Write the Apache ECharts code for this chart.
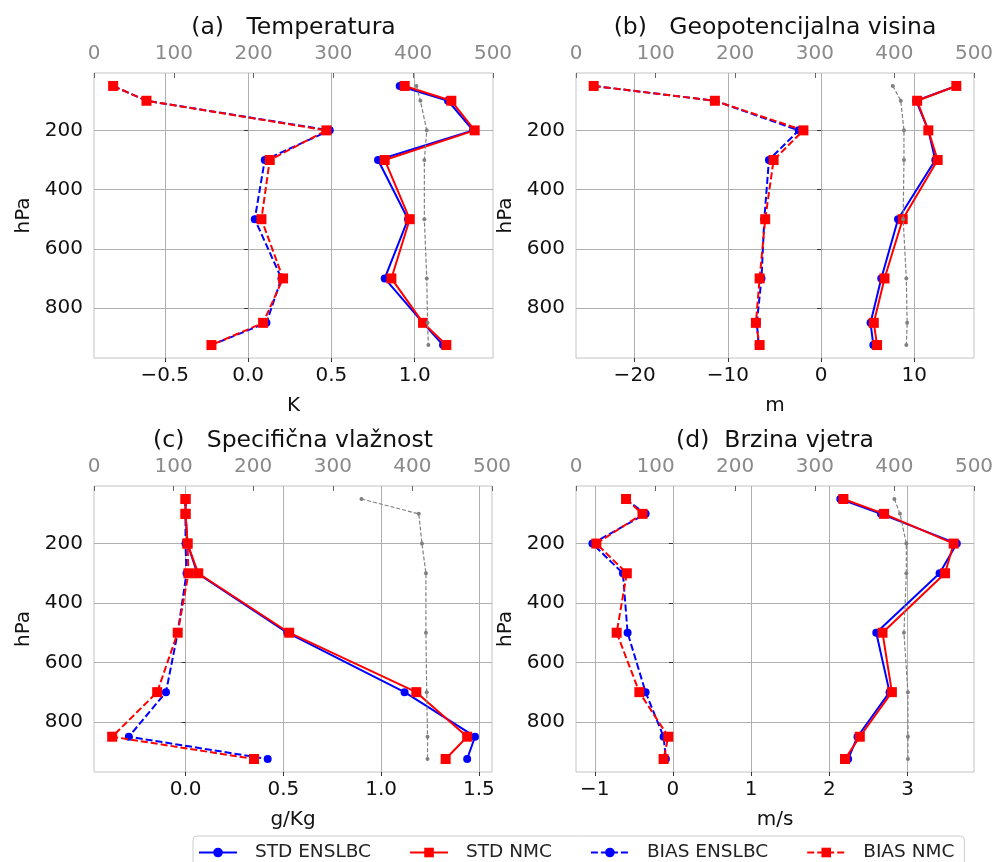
<!DOCTYPE html>
<html>
<head>
<meta charset="utf-8">
<script src="https://cdn.jsdelivr.net/npm/echarts@6/dist/echarts.min.js"></script>
<style>
  html, body { margin: 0; padding: 0; background: #ffffff; }
  #chart { width: 994px; height: 862px; }
</style>
</head>
<body>
<div id="chart"></div>
<script>
// ---- data ----
const levels = [50, 100, 200, 300, 500, 700, 850, 925];

// (a) Temperatura [K]
const tStdEns  = [0.91, 1.20, 1.35, 0.78, 0.96, 0.82, 1.05, 1.17];
const tStdNmc  = [0.94, 1.22, 1.36, 0.82, 0.97, 0.86, 1.05, 1.19];
const tBiasEns = [-0.81, -0.61, 0.49, 0.10, 0.04, 0.20, 0.11, -0.22];
const tBiasNmc = [-0.81, -0.61, 0.47, 0.13, 0.08, 0.21, 0.09, -0.22];
const tCount   = [404, 409, 417, 414, 414, 417, 418, 419];

// (b) Geopotencijalna visina [m]
const zStdEns  = [14.5, 10.2, 11.5, 12.25, 8.25, 6.45, 5.3, 5.6];
const zStdNmc  = [14.5, 10.3, 11.5, 12.5, 8.75, 6.8, 5.65, 6.0];
const zBiasEns = [-24.4, -11.4, -2.4, -5.6, -6.1, -6.4, -6.9, -6.7];
const zBiasNmc = [-24.4, -11.4, -1.9, -5.1, -6.0, -6.6, -7.0, -6.6];
const zCount   = [398, 408, 412, 412, 411, 415, 416, 415];

// (c) Specifična vlažnost [g/Kg]
const qStdEns  = [0.0, 0.0, 0.01, 0.06, 0.52, 1.12, 1.48, 1.44];
const qStdNmc  = [0.0, 0.0, 0.01, 0.065, 0.53, 1.18, 1.44, 1.33];
const qBiasEns = [0.0, 0.0, 0.0, 0.005, -0.04, -0.10, -0.29, 0.42];
const qBiasNmc = [0.0, 0.0, 0.01, 0.015, -0.04, -0.145, -0.375, 0.35];
const qCount   = [336, 408, 412, 417, 417, 418, 419, 419];

// (d) Brzina vjetra [m/s]
const wStdEns  = [2.14, 2.66, 3.63, 3.41, 2.60, 2.77, 2.36, 2.24];
const wStdNmc  = [2.18, 2.70, 3.59, 3.48, 2.68, 2.80, 2.39, 2.20];
const wBiasEns = [-0.61, -0.35, -1.03, -0.64, -0.58, -0.35, -0.12, -0.09];
const wBiasNmc = [-0.60, -0.39, -0.98, -0.59, -0.72, -0.43, -0.06, -0.12];
const wCount   = [400, 407, 415, 415, 412, 417, 417, 417];

// tick values
const yTicks = [200, 400, 600, 800];
const aTicks = [-0.5, 0, 0.5, 1.0];
const bTicks = [-20, -10, 0, 10];
const cTicks = [0, 0.5, 1.0, 1.5];
const dTicks = [-1, 0, 1, 2, 3];

const titles = ['(a)   Temperatura', '(b)   Geopotencijalna visina', '(c)   Specifična vlažnost', '(d)  Brzina vjetra'];
const units = ['K', 'm', 'g/Kg', 'm/s'];
const seriesNames = ['STD ENSLBC', 'STD NMC', 'BIAS ENSLBC', 'BIAS NMC'];

// ---- chart ----
const FONT = 'DejaVu Sans';
const grids = [
  { left: 94,  top: 73,  width: 399, height: 285 },
  { left: 576, top: 73,  width: 398, height: 285 },
  { left: 94,  top: 486, width: 398, height: 286 },
  { left: 576, top: 486, width: 398, height: 286 }
];
const xRanges = [[-0.925, 1.47], [-26.3, 16.4], [-0.468, 1.567], [-1.24, 3.85]];
const xTickSets = [aTicks, bTicks, cTicks, dTicks];
const xDecimals = [1, 0, 1, 0];
const panels = [
  [tStdEns, tStdNmc, tBiasEns, tBiasNmc, tCount],
  [zStdEns, zStdNmc, zBiasEns, zBiasNmc, zCount],
  [qStdEns, qStdNmc, qBiasEns, qBiasNmc, qCount],
  [wStdEns, wStdNmc, wBiasEns, wBiasNmc, wCount]
];

function fmt(v, d) {
  const s = Math.abs(v).toFixed(d);
  return (v < 0 ? '\u2212' : '') + s;
}

const xAxes = [], yAxes = [], series = [], titleArr = [];
grids.forEach((g, i) => {
  // bottom value axis
  xAxes.push({
    type: 'value', gridIndex: i, position: 'bottom',
    min: xRanges[i][0], max: xRanges[i][1],
    name: units[i], nameLocation: 'middle', nameGap: 38,
    nameTextStyle: { fontFamily: FONT, fontSize: 20, color: '#111' },
    axisLine: { show: false },
    axisTick: { show: true, inside: false, length: 4, customValues: xTickSets[i], lineStyle: { color: '#333', width: 1 } },
    axisLabel: { customValues: xTickSets[i], margin: 8, fontFamily: FONT, fontSize: 20, color: '#111',
      formatter: (v) => fmt(v, xDecimals[i]) },
    splitLine: { show: true, lineStyle: { color: '#b0b0b0', width: 1 } }
  });
  // top count axis
  xAxes.push({
    type: 'value', gridIndex: i, position: 'top',
    min: 0, max: 500, interval: 100,
    axisLine: { show: false },
    axisTick: { show: true, inside: true, length: 5, lineStyle: { color: '#666', width: 1 } },
    axisLabel: { margin: 9, fontFamily: FONT, fontSize: 20, color: '#8a8a8a' },
    splitLine: { show: false }
  });
  yAxes.push({
    type: 'value', gridIndex: i, inverse: true,
    min: 6.25, max: 968.75,
    name: 'hPa', nameLocation: 'middle', nameGap: 60, nameRotate: 90,
    nameTextStyle: { fontFamily: FONT, fontSize: 20, color: '#111' },
    axisLine: { show: false },
    axisTick: { show: true, length: 4, customValues: yTicks, lineStyle: { color: '#333', width: 1 } },
    axisLabel: { customValues: yTicks, margin: 11, fontFamily: FONT, fontSize: 20, color: '#111' },
    splitLine: { show: true, lineStyle: { color: '#b0b0b0', width: 1 } }
  });
  titleArr.push({
    text: titles[i], left: g.left + g.width / 2, top: g.top - 57, textAlign: 'center', padding: 0,
    textStyle: { fontFamily: FONT, fontSize: 23.5, fontWeight: 'normal', color: '#111' }
  });
  const d = panels[i];
  const pair = (arr) => arr.map((v, k) => [v, levels[k]]);
  const styles = [
    { color: '#0000ff', symbol: 'circle', size: 8, dash: 'solid' },
    { color: '#ff0000', symbol: 'rect', size: 10, dash: 'solid' },
    { color: '#0000ff', symbol: 'circle', size: 8, dash: [7, 3] },
    { color: '#ff0000', symbol: 'rect', size: 10, dash: [7, 3] }
  ];
  for (let s = 0; s < 4; s++) {
    series.push({
      name: seriesNames[s], type: 'line', xAxisIndex: i * 2, yAxisIndex: i,
      data: pair(d[s]), symbol: styles[s].symbol, symbolSize: styles[s].size,
      showAllSymbol: true, animation: false, z: 2 + s,
      itemStyle: { color: styles[s].color },
      lineStyle: { color: styles[s].color, width: 2, type: styles[s].dash }
    });
  }
  series.push({
    name: 'count', type: 'line', xAxisIndex: i * 2 + 1, yAxisIndex: i,
    data: pair(d[4]), symbol: 'circle', symbolSize: 4, animation: false, z: 10,
    itemStyle: { color: '#808080' },
    lineStyle: { color: '#808080', width: 1.2, type: [4, 2] }
  });
});

const chart = echarts.init(document.getElementById('chart'), null, { renderer: 'canvas' });
chart.setOption({
  backgroundColor: '#ffffff',
  animation: false,
  title: titleArr,
  grid: grids.map(g => Object.assign({ show: true, borderColor: '#c4c4c4', borderWidth: 1, backgroundColor: 'transparent', containLabel: false, outerBoundsMode: 'none' }, g)),
  xAxis: xAxes,
  yAxis: yAxes,
  legend: {
    data: seriesNames,
    left: 193, top: 836,
    orient: 'horizontal',
    itemWidth: 38, itemHeight: 12, itemGap: 38,
    padding: [7, 10, 10, 5],
    borderColor: '#cccccc', borderWidth: 1, borderRadius: 4,
    textStyle: { fontFamily: FONT, fontSize: 18.5, color: '#222', padding: [0, 0, 0, 13] }
  },
  series: series
});
</script>
</body>
</html>
